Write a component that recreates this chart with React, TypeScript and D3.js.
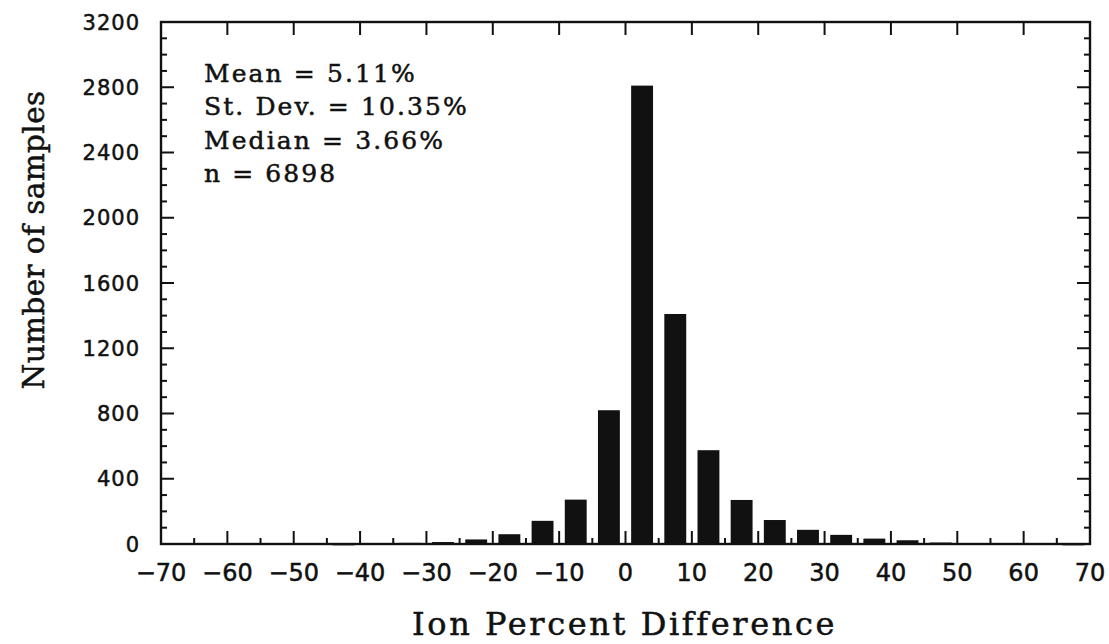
import React from "react";
import * as d3 from "d3";

// Histogram bins (centre of each 5 % bin) and counts
const binCenters = [
  -67.5, -62.5, -57.5, -52.5, -47.5, -42.5, -37.5, -32.5, -27.5, -22.5, -17.5, -12.5, -7.5, -2.5,
  2.5, 7.5, 12.5, 17.5, 22.5, 27.5, 32.5, 37.5, 42.5, 47.5, 52.5, 57.5, 62.5, 67.5,
];
const counts = [
  0, 0, 0, 0, 0, 1, 4, 7, 12, 28, 60, 142, 272, 820,
  2810, 1410, 575, 270, 147, 87, 56, 33, 23, 9, 5, 4, 3, 1,
];
const xTicks = [-70, -60, -50, -40, -30, -20, -10, 0, 10, 20, 30, 40, 50, 60, 70];
const yTicks = [0, 400, 800, 1200, 1600, 2000, 2400, 2800, 3200];
const statLines = ["Mean = 5.11%", "St. Dev. = 10.35%", "Median = 3.66%", "n = 6898"];
const xTitle = "Ion Percent Difference";
const yTitle = "Number of samples";

const W = 1109;
const H = 644;
const BIN = 5;
const BAR_FRAC = 0.66;

export default function App() {
  const left = 161, right = 1090, top = 22, bottom = 544;
  const x = d3.scaleLinear().domain([-70, 70]).range([left, right]);
  const y = d3.scaleLinear().domain([0, 3200]).range([bottom, top]);

  const majorX = d3.range(-60, 61, 10);
  const minorX = d3.range(-65, 66, 10);
  const yMinor = d3.range(100, 3200, 100);

  const half = (BIN * BAR_FRAC) / 2;
  const ink = "#111";

  return (
    <svg
      width={W}
      height={H}
      style={{ position: "absolute", left: 0, top: 0, background: "#fff" }}
    >
      <rect x={0} y={0} width={W} height={H} fill="#fff" />
      {/* bars */}
      {binCenters.map((c, i) =>
        counts[i] > 0 ? (
          <rect
            key={c}
            x={x(c - half)}
            width={x(c + half) - x(c - half)}
            y={y(counts[i])}
            height={Math.max(y(0) - y(counts[i]), 1.5)}
            fill={ink}
          />
        ) : null
      )}
      {/* frame */}
      <rect
        x={left}
        y={top}
        width={right - left}
        height={bottom - top}
        fill="none"
        stroke={ink}
        strokeWidth={2.4}
      />
      {/* bottom ticks */}
      {majorX.map((v) => (
        <line key={"bM" + v} x1={x(v)} x2={x(v)} y1={bottom} y2={bottom - 13} stroke={ink} strokeWidth={2} />
      ))}
      {minorX.map((v) => (
        <line key={"bm" + v} x1={x(v)} x2={x(v)} y1={bottom} y2={bottom - 6} stroke={ink} strokeWidth={2} />
      ))}
      {/* top ticks */}
      {majorX.map((v) => (
        <line key={"tM" + v} x1={x(v)} x2={x(v)} y1={top} y2={top + 13} stroke={ink} strokeWidth={2} />
      ))}
      {/* left / right ticks */}
      {yMinor.map((v) => {
        const len = v % 400 === 0 ? 13 : 6;
        return (
          <g key={"y" + v}>
            <line x1={left} x2={left + len} y1={y(v)} y2={y(v)} stroke={ink} strokeWidth={2} />
            <line x1={right} x2={right - len} y1={y(v)} y2={y(v)} stroke={ink} strokeWidth={2} />
          </g>
        );
      })}
      {/* x tick labels */}
      {xTicks.map((v) => (
        <text
          key={"xl" + v}
          x={x(v)}
          y={581}
          textAnchor="middle"
          fontFamily="DejaVu Sans"
          fontSize={24}
          fill={ink}
          stroke={ink}
          strokeWidth={0.5}
        >
          {v < 0 ? "\u2212" + Math.abs(v) : String(v)}
        </text>
      ))}
      {/* y tick labels */}
      {yTicks.map((v) => (
        <text
          key={"yl" + v}
          x={140}
          y={y(v)}
          dy="0.36em"
          textAnchor="end"
          fontFamily="DejaVu Sans"
          fontSize={21}
          letterSpacing={1}
          fill={ink}
          stroke={ink}
          strokeWidth={0.5}
        >
          {v}
        </text>
      ))}
      {/* stats */}
      {statLines.map((s, i) => (
        <text
          key={"s" + i}
          x={204}
          y={82 + i * 33.3}
          fontFamily="DejaVu Serif"
          fontSize={25}
          letterSpacing={2.1}
          fill={ink}
          stroke={ink}
          strokeWidth={0.5}
          style={{ whiteSpace: "pre" }}
        >
          {s}
        </text>
      ))}
      {/* axis titles */}
      <text
        x={(409 + 840) / 2}
        y={635}
        textAnchor="middle"
        fontFamily="DejaVu Serif"
        fontSize={32}
        letterSpacing={2.6}
        fill={ink}
        stroke={ink}
        strokeWidth={0.5}
      >
        {xTitle}
      </text>
      <text
        transform={`translate(44, 240) rotate(-90)`}
        textAnchor="middle"
        fontFamily="DejaVu Serif"
        fontSize={29.5}
        letterSpacing={0.4}
        fill={ink}
        stroke={ink}
        strokeWidth={0.5}
      >
        {yTitle}
      </text>
    </svg>
  );
}
